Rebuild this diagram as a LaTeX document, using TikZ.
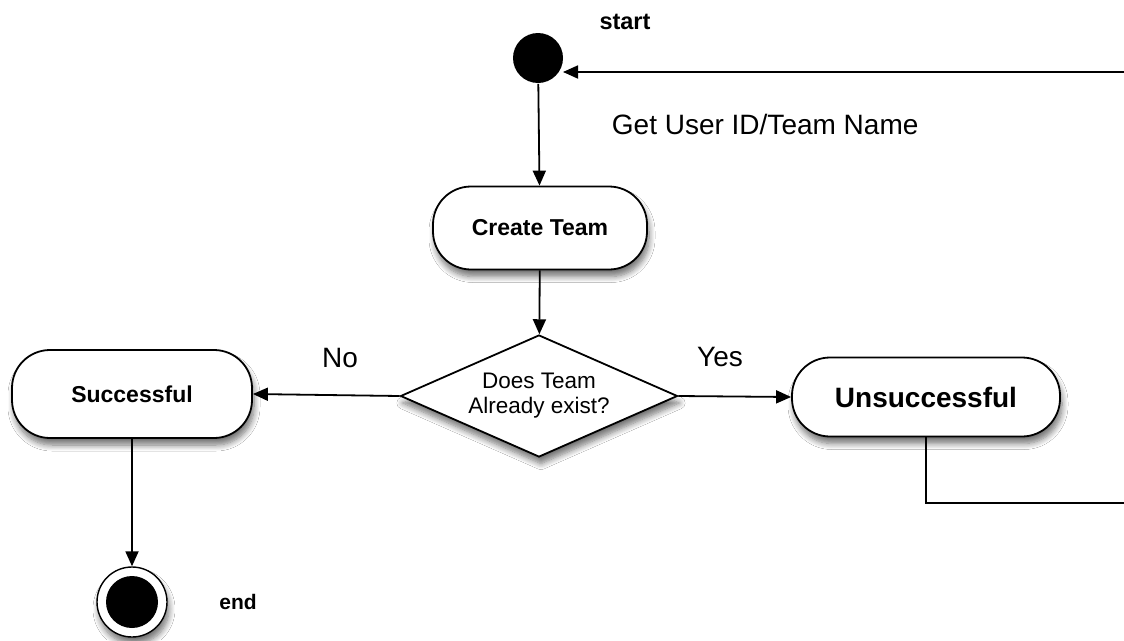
\documentclass[tikz,border=0pt]{standalone}
\usepackage{fontspec}
\setmainfont{Liberation Sans}
\usetikzlibrary{arrows.meta,shapes.geometric,shadows.blur}
\begin{document}
\begin{tikzpicture}[x=1pt,y=-1pt,
  line width=1.8pt,
  arr/.style={-{Triangle[length=15pt,width=13pt]}},
  shd/.style={blur shadow={shadow xshift=2pt, shadow yshift=-7pt, shadow blur steps=8, shadow blur radius=6pt, shadow opacity=55}},
  act/.style={draw, fill=white, rectangle, rounded corners=38pt, inner sep=0pt, shd},
  dec/.style={draw, fill=white, diamond, inner sep=0pt, minimum width=277pt, minimum height=122pt, shd},
  lbl/.style={font=\fontsize{28}{30}\selectfont},
  blbl/.style={font=\fontsize{22}{24}\selectfont\bfseries}
]
\useasboundingbox (0,0) rectangle (1124,640);
\clip (0,0) rectangle (1124,640);
\fill[white] (0,0) rectangle (1124,640);

% start
\node[circle, fill=black, minimum size=50pt, inner sep=0pt] (start) at (538,58) {};
\node[font=\fontsize{23.5}{26}\selectfont\bfseries] (startlbl) at (625,22) {start};
\node[lbl, anchor=west, inner sep=0pt] (getlbl) at (611,124) {Get User ID/Team Name};

% create team
\node[act, minimum width=214pt, minimum height=83pt, font=\fontsize{23}{25}\selectfont\bfseries] (create) at (540,228) {Create Team};

% decision
\node[dec] (dec) at (539,396) {};
\node[align=center, font=\fontsize{22.5}{25}\selectfont] (dectext) at (dec.center) {Does Team\\Already exist?};

% successful
\node[act, minimum width=240pt, minimum height=88pt, font=\fontsize{23}{25}\selectfont\bfseries] (succ) at (132,394) {Successful};

% unsuccessful
\node[act, minimum width=268pt, minimum height=79pt, font=\fontsize{28}{30}\selectfont\bfseries] (unsucc) at (926,397) {Unsuccessful};

% end
\node[circle, draw=black, line width=1.4pt, fill=white, minimum size=70pt, inner sep=0pt, shd] (endo) at (132,602) {};
\node[circle, fill=black, minimum size=52pt, inner sep=0pt] (endi) at (132,602) {};
\node[font=\fontsize{21}{23}\selectfont\bfseries] (endlbl) at (238,602) {end};

% labels
\node[lbl] (nolbl) at (340,358) {No};
\node[lbl] (yeslbl) at (720,357) {Yes};

% connectors
\draw[arr] (start) -- (create);
\draw[arr] (create) -- (dec);
\draw[arr] (dec.west) -- (succ.east);
\draw[arr] (dec.east) -- (unsucc.west);
\draw[arr] (succ.south) -- (endo.north);

\coordinate (c1) at (1150,503);
\coordinate (c2) at (1150,72);
\coordinate (c3) at (563,72);
\draw[arr] (unsucc.south) |- (c1) -- (c2) -- (c3);
\end{tikzpicture}
\end{document}
